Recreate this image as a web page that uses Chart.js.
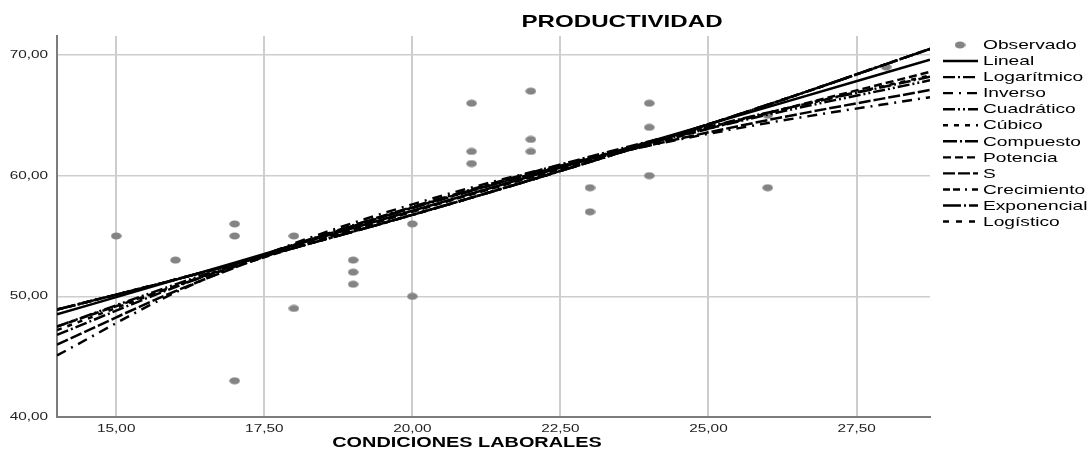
<!DOCTYPE html>
<html>
<head>
<meta charset="utf-8">
<script src="https://cdn.jsdelivr.net/npm/chart.js@4.4.1/dist/chart.umd.min.js"></script>
<style>
  html, body { margin: 0; padding: 0; background: #ffffff; }
  #wrap { width: 1091px; height: 463px; }
</style>
</head>
<body>
<div id="wrap"><canvas id="grafico" width="1091" height="463"></canvas></div>
<script>
// Observed cases: working conditions (x) vs productivity (y)
const condiciones   = [15, 16, 17, 17, 17, 18, 18, 19, 19, 19, 20, 20, 21, 21, 21, 22, 22, 22, 23, 23, 24, 24, 24, 26, 26, 28];
const productividad = [55, 53, 56, 55, 43, 55, 49, 53, 52, 51, 56, 50, 66, 62, 61, 67, 63, 62, 59, 57, 66, 64, 60, 65, 59, 69];

// Fitted curves, sampled along the x range
const ajusteX      = [14, 16, 18, 20, 22, 24, 26, 28.74];
const lineal       = [48.5, 51.36, 54.23, 57.09, 59.95, 62.82, 65.68, 69.6];
const logaritmico  = [46.8, 50.77, 54.28, 57.41, 60.25, 62.84, 65.22, 68.2];
const inverso      = [45.1, 50.32, 54.37, 57.62, 60.28, 62.49, 64.36, 66.5];
const cuadratico   = [47.5, 50.99, 54.26, 57.3, 60.11, 62.69, 65.05, 67.9];
const cubico       = [47.2, 50.85, 54.25, 57.35, 60.15, 62.75, 65.2, 68.3];
const compuesto    = [48.9, 51.39, 54.01, 56.75, 59.64, 62.68, 65.87, 70.5];
const potencia     = [47.5, 50.85, 54.01, 57.0, 59.85, 62.57, 65.18, 68.6];
const modeloS      = [46.0, 50.43, 54.17, 57.35, 60.11, 62.5, 64.6, 67.1];
const crecimiento  = [48.9, 51.39, 54.01, 56.75, 59.64, 62.68, 65.87, 70.5];
const exponencial  = [48.9, 51.39, 54.01, 56.75, 59.64, 62.68, 65.87, 70.5];
const logistico    = [48.9, 51.39, 54.01, 56.75, 59.64, 62.68, 65.87, 70.5];

// Axis ticks
const xTicks = [15, 17.5, 20, 22.5, 25, 27.5];
const yTicks = [40, 50, 60, 70];

const TEXT_STRETCH = 1.42;
const FONT = "'Liberation Sans', Arial, sans-serif";

// Grey elliptical marker for observed cases
const marca = document.createElement('canvas');
marca.width = 11; marca.height = 8;
(function () {
  const g = marca.getContext('2d');
  g.fillStyle = '#848484';
  g.beginPath();
  g.ellipse(5.5, 4, 5.3, 3.5, 0, 0, Math.PI * 2);
  g.fill();
})();

const fmt = v => v.toFixed(2).replace('.', ',');
const pares = arr => ajusteX.map((x, i) => ({ x: x, y: arr[i] }));

function curva(label, arr, dash) {
  return {
    type: 'scatter', label: label, data: pares(arr), showLine: true,
    borderColor: '#000000', borderWidth: 2.5, borderDash: dash,
    pointRadius: 0, pointHoverRadius: 0, fill: false,
    cubicInterpolationMode: 'monotone', order: 0
  };
}

const datasets = [
  {
    type: 'scatter', label: 'Observado',
    data: condiciones.map((x, i) => ({ x: x, y: productividad[i] })),
    pointStyle: marca, pointRadius: 5, backgroundColor: '#848484', borderColor: '#848484',
    order: 1
  },
  curva('Lineal', lineal, []),
  curva('Logarítmico', logaritmico, [12, 3, 2, 3]),
  curva('Inverso', inverso, [10, 6, 2, 6]),
  curva('Cuadrático', cuadratico, [12, 3, 2, 3, 2, 3]),
  curva('Cúbico', cubico, [5, 6]),
  curva('Compuesto', compuesto, [14, 3, 2, 3]),
  curva('Potencia', potencia, [8, 4]),
  curva('S', modeloS, [12, 3]),
  curva('Crecimiento', crecimiento, [7, 3, 7, 5, 2, 5]),
  curva('Exponencial', exponencial, [18, 3, 2, 3]),
  curva('Logístico', logistico, [6, 7])
];

// Draw every text run horizontally widened around its anchor
const textoAncho = {
  id: 'textoAncho',
  beforeInit(chart) {
    const ctx = chart.ctx;
    const base = ctx.fillText.bind(ctx);
    ctx.fillText = function (text, x, y) {
      ctx.save();
      ctx.translate(x, y);
      ctx.scale(TEXT_STRETCH, 1);
      base(text, 0, 0);
      ctx.restore();
    };
  }
};

// Titles and the legend at the right
const rotulos = {
  id: 'rotulos',
  afterDraw(chart) {
    const ctx = chart.ctx;
    ctx.save();
    ctx.fillStyle = '#000000';
    ctx.textBaseline = 'middle';
    ctx.textAlign = 'center';
    ctx.font = 'bold 17px ' + FONT;
    ctx.fillText('PRODUCTIVIDAD', 622, 22);
    ctx.font = 'bold 14px ' + FONT;
    ctx.fillText('CONDICIONES LABORALES', 467, 443);

    const y0 = 45, paso = 16.05;
    ctx.font = '13.5px ' + FONT;
    ctx.textAlign = 'left';
    chart.data.datasets.forEach((ds, i) => {
      const y = y0 + i * paso;
      if (i === 0) {
        ctx.drawImage(marca, 960 - 5.5, y - 4);
      } else {
        ctx.strokeStyle = '#000000';
        ctx.lineWidth = 2.4;
        ctx.setLineDash(ds.borderDash);
        ctx.beginPath();
        ctx.moveTo(943, y);
        ctx.lineTo(978, y);
        ctx.stroke();
        ctx.setLineDash([]);
      }
      ctx.fillText(ds.label, 983, y + 0.5);
    });
    ctx.restore();
  }
};

new Chart(document.getElementById('grafico'), {
  type: 'scatter',
  data: { datasets: datasets },
  options: {
    responsive: false,
    animation: false,
    devicePixelRatio: 1,
    layout: { padding: { left: 0, top: 36, right: 161, bottom: 0 } },
    plugins: { legend: { display: false }, tooltip: { enabled: false } },
    scales: {
      x: {
        type: 'linear', min: 14, max: 28.74,
        afterFit(s) { s.height = 46; },
        afterBuildTicks(s) { s.ticks = xTicks.map(v => ({ value: v })); },
        grid: { color: '#cdcdcd', lineWidth: 2, drawTicks: false },
        border: { color: '#7c7c7c', width: 2 },
        ticks: {
          padding: 6, color: '#222222', maxRotation: 0, autoSkip: false,
          font: { family: FONT, size: 10.8 },
          callback: v => fmt(v)
        }
      },
      y: {
        type: 'linear', min: 40, max: 71.57,
        afterFit(s) { s.width = 57; },
        afterBuildTicks(s) { s.ticks = yTicks.map(v => ({ value: v })); },
        grid: { color: '#cdcdcd', lineWidth: 1.5, drawTicks: false },
        border: { color: '#7c7c7c', width: 2 },
        ticks: {
          padding: 9, color: '#222222', autoSkip: false,
          font: { family: FONT, size: 10.8 },
          callback: v => fmt(v)
        }
      }
    }
  },
  plugins: [textoAncho, rotulos]
});
</script>
</body>
</html>
